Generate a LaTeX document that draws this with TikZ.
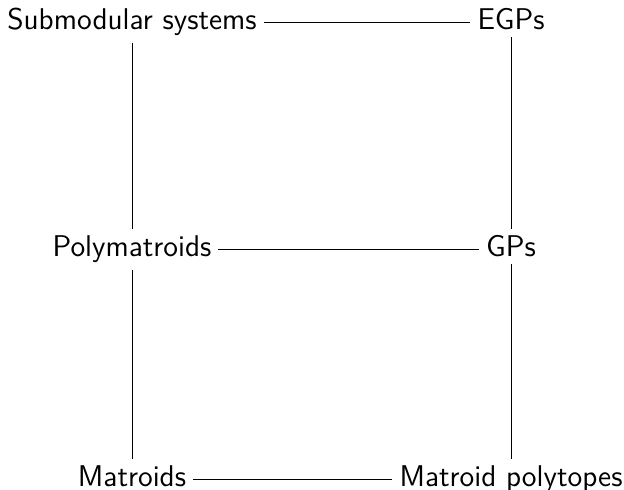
\documentclass[tikz,border=0pt]{standalone}
\begin{document}
\begin{tikzpicture}[x=0.5pt,y=-0.5pt,
  lbl/.style={font=\sffamily\fontsize{15}{18}\selectfont, anchor=base, inner sep=0.333em},
  conn/.style={line width=0.45pt}]
\useasboundingbox (0,0) rectangle (624,490);
\node[lbl] (sub) at (132,29.5) {Submodular systems};
\node[lbl] (egp) at (511,29.5) {EGPs};
\node[lbl] (poly) at (132,257) {Polymatroids};
\node[lbl] (gp) at (511,257) {GPs};
\node[lbl] (mat) at (132,486.5) {Matroids};
\node[lbl] (mpt) at (511,486.5) {Matroid polytopes};
\draw[conn] ([yshift=3.7pt]sub.base east) -- ([yshift=3.7pt]egp.base west);
\draw[conn] ([yshift=3.7pt]poly.base east) -- ([yshift=3.7pt]gp.base west);
\draw[conn] ([yshift=3.7pt]mat.base east) -- ([yshift=3.7pt]mpt.base west);
\draw[conn] (sub) -- (poly);
\draw[conn] (poly) -- (mat);
\draw[conn] (egp) -- (gp);
\draw[conn] (gp) -- (mpt);
\end{tikzpicture}
\end{document}
